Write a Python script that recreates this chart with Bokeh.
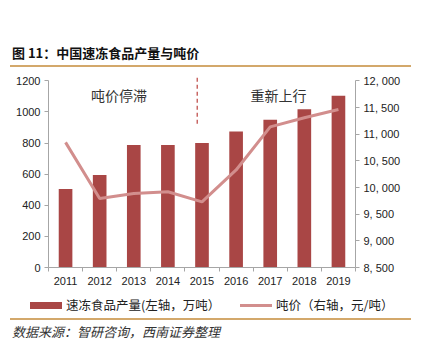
from bokeh.plotting import figure
from bokeh.layouts import column
from bokeh.models import (Range1d, LinearAxis, FixedTicker, Label, ColumnDataSource, Div)
from bokeh.embed import file_html
from bokeh.resources import INLINE

years = ["2011", "2012", "2013", "2014", "2015", "2016", "2017", "2018", "2019"]
output = [505, 595, 787, 787, 800, 875, 950, 1018, 1104]
price = [10846, 9794, 9889, 9920, 9731, 10329, 11137, 11307, 11464]
left_ticks = [0, 200, 400, 600, 800, 1000, 1200]
right_ticks = [8500, 9000, 9500, 10000, 10500, 11000, 11500, 12000]
right_labels = ["8, 500", "9, 000", "9, 500", "10, 000", "10, 500", "11, 000", "11, 500", "12, 000"]
title_text = "图 11：中国速冻食品产量与吨价"
source_text = "数据来源：智研咨询，西南证券整理"
legend_bar = "速冻食品产量(左轴，万吨）"
legend_line = "吨价（右轴，元/吨）"
notes = ["吨价停滞", "重新上行"]

BAR = "#A94645"
LINE = "#D28E8D"
GOLD = "#D3A86B"
CJK = "Noto Sans CJK SC"
W = 423

# ---------- top: title + gold rule ----------
top_html = (
    f'<div style="position:relative;width:{W}px;height:70px;margin:0;padding:0;">'
    f'<span style="position:absolute;left:12px;top:45px;line-height:16px;white-space:nowrap;'
    f'font-family:\'{CJK}\';font-size:13px;font-weight:bold;color:#111;">{title_text}</span>'
    f'<div style="position:absolute;left:10px;top:65px;width:401px;height:2px;background:{GOLD};"></div>'
    f'</div>'
)
top = Div(text=top_html, width=W, height=70, margin=0)

# ---------- main chart ----------
MT, MB = 6, 25
MH = 222
YTOP = 1228.0
RTOP = 8500 + YTOP / 1200 * 3500

x = list(range(len(years)))
src = ColumnDataSource(dict(x=x, out=output, price=price))

p = figure(width=W, height=MH, output_backend="svg", toolbar_location=None,
           x_range=Range1d(-0.5, 8.5), y_range=Range1d(0, YTOP),
           min_border_left=48, min_border_right=68,
           min_border_top=MT, min_border_bottom=MB)
p.outline_line_color = None
p.grid.visible = False
p.background_fill_color = "white"
p.border_fill_color = "white"
p.extra_y_ranges = {"price": Range1d(8500, RTOP)}

p.vbar(x="x", top="out", width=0.4, source=src, fill_color=BAR, line_color=None)
p.line(x="x", y="price", source=src, y_range_name="price", line_color=LINE, line_width=3)
p.segment(x0=[3.86], y0=[925], x1=[3.86], y1=[YTOP], line_color="#C0504D",
          line_width=1.3, line_dash="4 3")

AXC = "#A6A6A6"
def style_axis(ax):
    ax.axis_line_color = AXC
    ax.major_tick_line_color = AXC
    ax.minor_tick_line_color = AXC
    ax.major_tick_out = 4
    ax.major_tick_in = 0
    ax.minor_tick_out = 0
    ax.minor_tick_in = 0
    ax.major_label_text_font = "Liberation Sans"
    ax.major_label_text_font_size = "11px"
    ax.major_label_text_color = "#222222"
    ax.major_label_standoff = 4

ya = p.yaxis[0]
style_axis(ya)
ya.ticker = FixedTicker(ticks=left_ticks)
ya.bounds = (0, 1200)

xa = p.xaxis[0]
style_axis(xa)
xa.ticker = FixedTicker(ticks=x, minor_ticks=[i - 0.5 for i in range(len(years) + 1)])
xa.major_label_overrides = {i: yr for i, yr in enumerate(years)}
xa.major_tick_out = 0
xa.minor_tick_out = 4
xa.major_label_standoff = 5

ra = LinearAxis(y_range_name="price", ticker=FixedTicker(ticks=right_ticks))
style_axis(ra)
ra.bounds = (8500, 12000)
ra.major_label_overrides = {t: l for t, l in zip(right_ticks, right_labels)}
p.add_layout(ra, "right")

for t, xx in zip(notes, [1.57, 6.24]):
    p.add_layout(Label(x=xx, y=1110, text=t, text_align="center", text_baseline="middle",
                       text_font=CJK, text_font_size="14px", text_color="#333333"))

# ---------- bottom: legend, gold rule, source ----------
BY0 = 70 + MH
BH = 345 - BY0
LY = 305 - BY0
lab_style = (f"position:absolute;top:{LY - 8}px;line-height:16px;white-space:nowrap;"
             f"font-family:'{CJK}';font-size:12.5px;color:#222;")
bot_html = (
    f'<div style="position:relative;width:{W}px;height:{BH}px;margin:0;padding:0;">'
    f'<div style="position:absolute;left:30px;top:{LY - 3.5}px;width:32px;height:7px;background:{BAR};"></div>'
    f'<span style="{lab_style}left:66px;">{legend_bar}</span>'
    f'<div style="position:absolute;left:240px;top:{LY - 1.5}px;width:32px;height:3px;background:{LINE};"></div>'
    f'<span style="{lab_style}left:276px;">{legend_line}</span>'
    f'<div style="position:absolute;left:10px;top:{318 - BY0}px;width:401px;height:2px;background:{GOLD};"></div>'
    f'<span style="position:absolute;left:12px;top:{332 - BY0 - 8}px;line-height:16px;white-space:nowrap;'
    f'font-family:\'{CJK}\';font-size:13px;font-style:italic;color:#333;">{source_text}</span>'
    f'</div>'
)
bot = Div(text=bot_html, width=W, height=BH, margin=0)

layout = column(top, p, bot, spacing=0)
open("out.html", "w").write(file_html(layout, INLINE))
